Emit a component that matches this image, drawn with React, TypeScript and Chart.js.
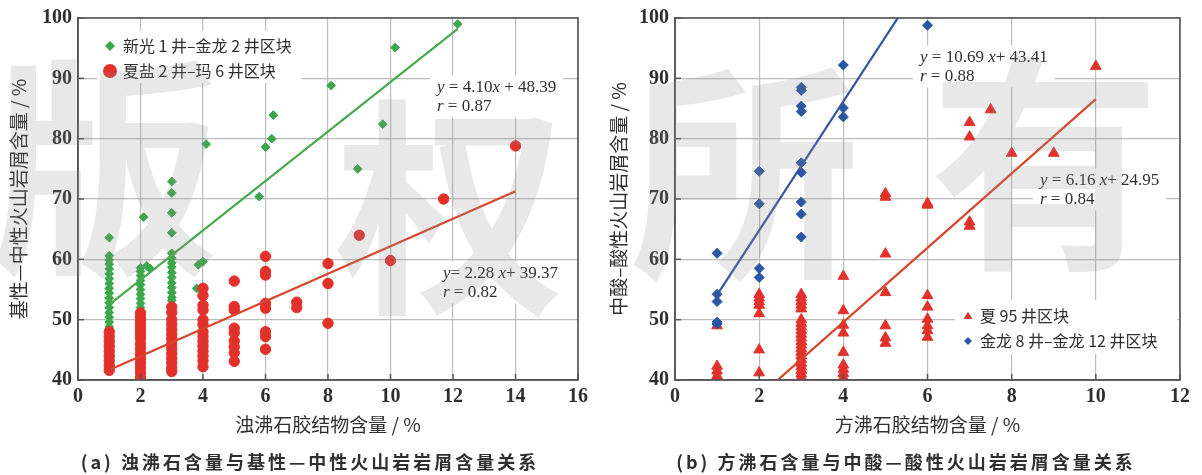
import React, { useEffect, useRef } from "react";
import { Chart, registerables } from "chart.js";

Chart.register(...registerables);

type Pt = [number, number];
type Seg = [string, boolean];

const SERIF = '"Liberation Serif", "DejaVu Serif", serif';
const CJK = '"Noto Sans CJK SC", "Noto Sans CJK JP", sans-serif';
const TEXT = "#2f2f2f";
const BG = "#ffffff";
const GREEN = "#3aa84a";
const GREEN_LINE = "#4aa84e";
const RED = "#e2312b";
const RED_LINE = "#d8452b";
const BLUE = "#2b55a5";
const BLUE_LINE = "#3557a0";

// ---------------- Panel (a) ----------------
const aXRange: Pt = [0, 16];
const aYRange: Pt = [40, 100];
const aXStep = 2;
const aYStep = 10;
const aXTitle = "浊沸石胶结物含量 / %";
const aYTitle = "基性—中性火山岩屑含量 / %";
const aCaption = "(a) 浊沸石含量与基性—中性火山岩岩屑含量关系";

const aGreenLabel = "新光 1 井–金龙 2 井区块";
const aGreen: Pt[] = [
  [1, 63.6], [1, 60.6], [1, 59.9], [1, 59.2], [1, 58.4], [1, 57.6], [1, 56.8], [1, 56.0],
  [1, 55.2], [1, 54.4], [1, 53.6], [1, 52.8], [1, 52.0], [1, 51.2], [1, 50.4], [1, 49.6], [1, 48.8],
  [2.1, 67.0], [2, 58.6], [2, 58.0], [2, 57.3], [2, 56.5], [2, 55.8], [2, 55.0], [2, 54.2],
  [2, 53.5], [2, 52.7], [2, 52.0], [2.2, 58.9], [2.3, 58.5],
  [3, 72.9], [3, 71.0], [3, 67.7], [3, 64.4], [3, 61.0], [3, 60.2], [3, 59.4], [3, 58.7],
  [3, 57.8], [3, 57.0], [3, 56.1], [3, 55.3], [3, 54.5], [3, 53.7], [3, 53.2],
  [4.1, 79.1], [4, 59.6], [3.85, 59.1], [3.8, 55.2],
  [6.25, 83.9], [6.2, 80.0], [6.0, 78.6], [5.8, 70.4],
  [8.1, 88.8], [8.95, 75.0], [9.75, 82.4], [10.15, 95.1], [12.15, 99.0],
];

const aRedLabel = "夏盐 2 井–玛 6 井区块";
const aRed: Pt[] = [
  [1, 48.0], [1, 47.2], [1, 46.4], [1, 45.6], [1, 44.8], [1, 44.0], [1, 43.2], [1, 42.4], [1, 41.6],
  [2, 51.1], [2, 50.4], [2, 49.7], [2, 49.0], [2, 48.3], [2, 47.6], [2, 46.9], [2, 46.0],
  [2, 45.2], [2, 44.4], [2, 43.6], [2, 42.8], [2, 42.0], [2, 41.2], [2, 40.4],
  [3, 52.1], [3, 51.2], [3, 50.0], [3, 49.2], [3, 48.4], [3, 47.6], [3, 46.8], [3, 46.0],
  [3, 45.2], [3, 44.4], [3, 43.6], [3, 42.8], [3, 42.0], [3, 41.4],
  [4, 55.2], [4, 54.0], [4, 52.4], [4, 51.6], [4, 50.0], [4, 49.2], [4, 48.0], [4, 47.2],
  [4, 46.4], [4, 45.6], [4, 44.8], [4, 44.0], [4, 43.2], [4, 42.2],
  [5, 56.4], [5, 52.2], [5, 51.6], [5, 48.6], [5, 47.8], [5, 46.5], [5, 45.5], [5, 44.5], [5, 43.1],
  [6, 60.5], [6, 58.0], [6, 57.4], [6, 52.7], [6, 51.9], [6, 48.0], [6, 47.2], [6, 45.1],
  [7, 52.9], [7, 52.0],
  [8, 59.3], [8, 56.0], [8, 49.4],
  [9, 64.0], [10, 59.8], [11.7, 70.0], [14, 78.8],
];

// regression: [slope, intercept, xFrom, xTo]
const aGreenFit = [4.10, 48.39, 1.05, 12.15];
const aRedFit = [2.28, 39.37, 1.05, 14];

const aGreenEq: Seg[][] = [[["y", true], [" = 4.10", false], ["x", true], [" + 48.39", false]], [["r", true], [" = 0.87", false]]];
const aRedEq: Seg[][] = [[["y", true], ["= 2.28 ", false], ["x", true], ["+ 39.37", false]], [["r", true], [" = 0.82", false]]];

// ---------------- Panel (b) ----------------
const bXRange: Pt = [0, 12];
const bYRange: Pt = [40, 100];
const bXStep = 2;
const bYStep = 10;
const bXTitle = "方沸石胶结物含量 / %";
const bYTitle = "中酸–酸性火山岩屑含量 / %";
const bCaption = "(b) 方沸石含量与中酸—酸性火山岩岩屑含量关系";

const bBlueLabel = "金龙 8 井–金龙 12 井区块";
const bBlue: Pt[] = [
  [1, 61.0], [1, 54.2], [1, 53.0], [1, 49.6], [1, 49.3],
  [2, 74.6], [2, 69.2], [2, 58.5], [2, 57.0],
  [3, 88.5], [3, 88.0], [3, 85.4], [3, 84.5], [3, 76.0], [3, 74.4], [3, 69.5], [3, 67.5], [3, 63.7],
  [4, 92.2], [4, 85.1], [4, 83.6],
  [6, 98.8],
];

const bRedLabel = "夏 95 井区块";
const bRed: Pt[] = [
  [1, 49.0], [1, 42.3], [1, 41.5], [1, 40.7],
  [2, 54.2], [2, 53.6], [2, 53.0], [2, 52.4], [2, 51.0], [2, 45.0], [2, 41.2],
  [3, 54.2], [3, 53.6], [3, 53.0], [3, 52.4], [3, 51.8], [3, 50.0], [3, 49.4], [3, 48.8],
  [3, 48.2], [3, 47.6], [3, 47.0], [3, 46.4], [3, 45.8], [3, 45.2], [3, 44.6], [3, 44.0],
  [3, 43.4], [3, 42.8], [3, 42.2], [3, 41.6], [3, 41.0], [3, 40.4],
  [4, 57.2], [4, 51.5], [4, 49.1], [4, 47.8], [4, 44.6], [4, 42.5], [4, 41.8], [4, 41.1], [4, 40.4],
  [5, 70.9], [5, 70.3], [5, 60.9], [5, 54.5], [5, 49.0], [5, 47.0], [5, 46.1],
  [6, 69.3], [6, 69.0], [6, 54.0], [6, 52.1], [6, 50.1], [6, 49.0], [6, 48.2], [6, 47.1],
  [7, 82.7], [7, 80.3], [7, 66.2], [7, 65.5], [7.5, 84.8], [8, 77.6], [9, 77.6], [10, 92.0],
];

const bBlueFit = [10.69, 43.41, 1.0, 5.3];
const bRedFit = [6.16, 24.95, 2.44, 10];

const bBlueEq: Seg[][] = [[["y", true], [" = 10.69 ", false], ["x", true], ["+ 43.41", false]], [["r", true], [" = 0.88", false]]];
const bRedEq: Seg[][] = [[["y", true], [" = 6.16 ", false], ["x", true], ["+ 24.95", false]], [["r", true], [" = 0.84", false]]];

// ---------------- drawing helpers ----------------
function drawMarker(ctx: CanvasRenderingContext2D, style: string, cx: number, cy: number, r: number, color: string) {
  ctx.fillStyle = color;
  ctx.beginPath();
  if (style === "circle") {
    ctx.arc(cx, cy, r, 0, Math.PI * 2);
  } else if (style === "rectRot") {
    ctx.moveTo(cx, cy - r);
    ctx.lineTo(cx + r, cy);
    ctx.lineTo(cx, cy + r);
    ctx.lineTo(cx - r, cy);
    ctx.closePath();
  } else {
    const h = r * 1.6;
    ctx.moveTo(cx, cy - h * 0.6);
    ctx.lineTo(cx + r, cy + h * 0.4);
    ctx.lineTo(cx - r, cy + h * 0.4);
    ctx.closePath();
  }
  ctx.fill();
}

const NOTE_SIZE = 17;
const NOTE_LH = 19;

function segFont(italic: boolean) {
  return `${italic ? "italic " : ""}${NOTE_SIZE}px ${SERIF}`;
}

function measureLine(ctx: CanvasRenderingContext2D, line: Seg[]) {
  let w = 0;
  for (const [t, it] of line) {
    ctx.font = segFont(it);
    w += ctx.measureText(t).width;
  }
  return w;
}

const decoPlugin = {
  id: "deco",
  beforeDatasetsDraw(chart: any, _a: any, opts: any) {
    if (!opts || !opts.notes) return;
    const { ctx, chartArea: ca } = chart;
    ctx.save();
    ctx.fillStyle = BG;
    for (const n of opts.notes) {
      let w = 0;
      for (const line of n.lines) w = Math.max(w, measureLine(ctx, line));
      const h = n.lines.length * NOTE_LH;
      ctx.fillRect(ca.left + n.dx - 7, ca.top + n.dy - NOTE_LH / 2 - 3, w + 14, h + 4);
    }
    if (opts.legend) {
      const b = opts.legend.box;
      ctx.fillRect(ca.left + b[0], ca.top + b[1], b[2], b[3]);
    }
    ctx.restore();
  },
  afterDatasetsDraw(chart: any, _a: any, opts: any) {
    if (!opts || !opts.notes) return;
    const { ctx, chartArea: ca } = chart;
    ctx.save();
    // inner tick marks
    ctx.strokeStyle = "#555";
    ctx.lineWidth = 1.5;
    const xs = chart.scales.x;
    const ys = chart.scales.y;
    for (const t of xs.ticks) {
      const px = xs.getPixelForValue(t.value);
      ctx.beginPath();
      ctx.moveTo(px, ca.bottom);
      ctx.lineTo(px, ca.bottom - 6);
      ctx.stroke();
    }
    for (const t of ys.ticks) {
      const py = ys.getPixelForValue(t.value);
      ctx.beginPath();
      ctx.moveTo(ca.left, py);
      ctx.lineTo(ca.left + 6, py);
      ctx.stroke();
    }
    // frame
    ctx.strokeStyle = "#555";
    ctx.lineWidth = 1.6;
    ctx.strokeRect(ca.left, ca.top, ca.right - ca.left, ca.bottom - ca.top);
    // equations
    ctx.fillStyle = TEXT;
    ctx.textBaseline = "middle";
    ctx.textAlign = "left";
    for (const n of opts.notes) {
      n.lines.forEach((line: Seg[], i: number) => {
        let x = ca.left + n.dx;
        const y = ca.top + n.dy + i * NOTE_LH;
        for (const [t, it] of line) {
          ctx.font = segFont(it);
          ctx.fillText(t, x, y);
          x += ctx.measureText(t).width;
        }
      });
    }
    // legend
    if (opts.legend) {
      const L = opts.legend;
      ctx.font = `16px ${CJK}`;
      L.items.forEach((it: any, i: number) => {
        const cy = ca.top + L.y + i * L.dy;
        drawMarker(ctx, it.style, ca.left + L.x, cy, it.r, it.color);
        ctx.fillStyle = TEXT;
        ctx.fillText(it.text, ca.left + L.textX, cy);
      });
    }
    ctx.restore();
  },
};
Chart.register(decoPlugin);

function fitLine(f: number[], color: string) {
  const [m, b, x0, x1] = f;
  return {
    data: [{ x: x0, y: m * x0 + b }, { x: x1, y: m * x1 + b }],
    showLine: true,
    borderColor: color,
    borderWidth: 2.2,
    pointRadius: 0,
    fill: false,
  };
}

function pts(style: string, r: number, color: string, data: Pt[]) {
  return {
    data: data.map(([x, y]) => ({ x, y })),
    pointStyle: style,
    pointRadius: r,
    backgroundColor: color,
    borderColor: color,
    borderWidth: 1,
    showLine: false,
  };
}

function buildChart(canvas: HTMLCanvasElement, spec: any) {
  const tickFont = { family: SERIF, size: 20, weight: "bold" as const };
  const titleFont = { family: CJK, size: 19 };
  return new Chart(canvas, {
    type: "scatter",
    data: { datasets: spec.datasets },
    options: {
      responsive: false,
      animation: false,
      devicePixelRatio: 1,
      layout: { padding: { left: 0, top: spec.padTop, right: spec.padRight, bottom: 0 } },
      plugins: {
        legend: { display: false },
        tooltip: { enabled: false },
        deco: spec.deco,
      } as any,
      scales: {
        x: {
          type: "linear",
          min: spec.xRange[0],
          max: spec.xRange[1],
          ticks: { stepSize: spec.xStep, color: TEXT, font: tickFont, padding: 5, maxRotation: 0, autoSkip: false },
          grid: { color: "#bcbcbc", lineWidth: 1.2, drawTicks: false },
          border: { color: "#555", width: 1.5 },
          title: { display: true, text: spec.xTitle, color: TEXT, font: titleFont, padding: { top: 0, bottom: 39 } },
          afterFit: (s: any) => { s.height = 95; },
        },
        y: {
          type: "linear",
          min: spec.yRange[0],
          max: spec.yRange[1],
          ticks: { stepSize: spec.yStep, color: TEXT, font: tickFont, padding: 6 },
          grid: { color: "#bcbcbc", lineWidth: 1.2, drawTicks: false },
          border: { color: "#555", width: 1.5 },
          title: { display: true, text: spec.yTitle, color: TEXT, font: titleFont, padding: { top: 7, bottom: 0 } },
          afterFit: (s: any) => { s.width = spec.yWidth; },
        },
      },
    } as any,
  });
}

const specA = {
  xRange: aXRange, yRange: aYRange, xStep: aXStep, yStep: aYStep,
  xTitle: aXTitle, yTitle: aYTitle, padTop: 17, padRight: 22, yWidth: 78,
  datasets: [
    fitLine(aGreenFit, GREEN_LINE),
    fitLine(aRedFit, RED_LINE),
    pts("circle", 5.2, RED, aRed),
    pts("rectRot", 4.4, GREEN, aGreen),
  ],
  deco: {
    notes: [
      { dx: 359, dy: 70, lines: aGreenEq },
      { dx: 365, dy: 256, lines: aRedEq },
    ],
    legend: {
      x: 32, y: 28, dy: 25, textX: 45, box: [19, 13, 205, 52],
      items: [
        { style: "rectRot", r: 5, color: GREEN, text: aGreenLabel },
        { style: "circle", r: 7, color: RED, text: aRedLabel },
      ],
    },
  },
};

const specB = {
  xRange: bXRange, yRange: bYRange, xStep: bXStep, yStep: bYStep,
  xTitle: bXTitle, yTitle: bYTitle, padTop: 15, padRight: 22, yWidth: 75,
  datasets: [
    fitLine(bBlueFit, BLUE_LINE),
    fitLine(bRedFit, RED_LINE),
    pts("rectRot", 5, BLUE, bBlue),
    pts("triangle", 6.2, RED, bRed),
  ],
  deco: {
    notes: [
      { dx: 245, dy: 40, lines: bBlueEq },
      { dx: 365, dy: 163, lines: bRedEq },
    ],
    legend: {
      x: 293, y: 298, dy: 25, textX: 305, box: [280, 282, 222, 54],
      items: [
        { style: "triangle", r: 4.5, color: RED, text: bRedLabel },
        { style: "rectRot", r: 4, color: BLUE, text: bBlueLabel },
      ],
    },
  },
};

function Panel({ spec, left, width }: { spec: any; left: number; width: number }) {
  const ref = useRef<HTMLCanvasElement>(null);
  useEffect(() => {
    const c = buildChart(ref.current as HTMLCanvasElement, spec);
    return () => c.destroy();
  }, []);
  return (
    <canvas
      ref={ref}
      width={width}
      height={475}
      style={{ position: "absolute", left, top: 0, width, height: 475 }}
    />
  );
}

const watermark: { ch: string; cx: number; cy: number }[] = [
  { ch: "版", cx: 105, cy: 155 },
  { ch: "权", cx: 450, cy: 195 },
  { ch: "所", cx: 745, cy: 160 },
  { ch: "有", cx: 1045, cy: 150 },
];

export default function App() {
  const capStyle: React.CSSProperties = {
    position: "absolute",
    top: 449,
    transform: "translateX(-50%)",
    whiteSpace: "nowrap",
    font: `bold 18px ${CJK}`,
    letterSpacing: "3px",
    color: TEXT,
    lineHeight: "24px",
  };
  return (
    <div style={{ position: "absolute", left: 0, top: 0, width: 1202, height: 475, background: BG, overflow: "hidden" }}>
      <Panel spec={specA} left={0} width={600} />
      <Panel spec={specB} left={600} width={602} />
      <div style={{ ...capStyle, left: 310 }}>{aCaption}</div>
      <div style={{ ...capStyle, left: 906 }}>{bCaption}</div>
      {watermark.map((w) => (
        <div
          key={w.ch}
          style={{
            position: "absolute",
            left: w.cx,
            top: w.cy,
            transform: "translate(-50%, -50%)",
            font: `bold 230px ${CJK}`,
            lineHeight: 1,
            color: "rgba(140,140,140,0.2)",
            pointerEvents: "none",
          }}
        >
          {w.ch}
        </div>
      ))}
    </div>
  );
}
